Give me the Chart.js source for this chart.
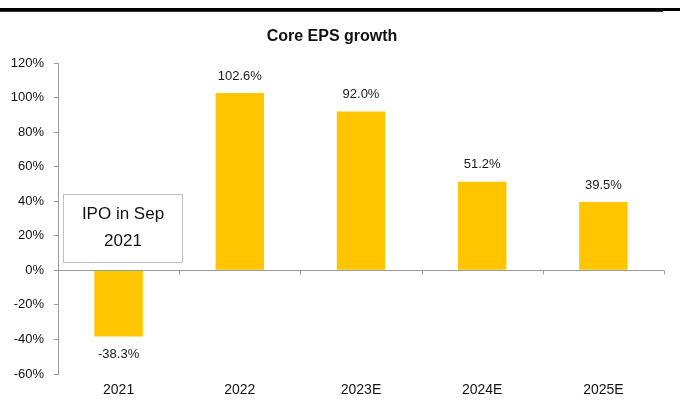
<!DOCTYPE html>
<html lang="en">

<head>
  <meta charset="UTF-8" />
  <script src="https://cdn.jsdelivr.net/npm/chart.js"></script>
  <title>Core EPS growth</title>
  <style>
    body { margin: 0; background: #fff; }
    .quadro { position: relative; width: 680px; height: 401px; }
    .faixa-topo { position: absolute; left: 0; top: 8px; width: 680px; height: 3px; background: #000; }
    .faixa-sombra { position: absolute; left: 0; top: 11px; width: 663px; height: 1px; background: #333; }
  </style>
</head>

<body>
  <div class="quadro">
    <canvas id="graficoEps"></canvas>
    <div class="faixa-topo"></div>
    <div class="faixa-sombra"></div>
  </div>
</body>

</html>

<script>
  // dados do gráfico
  const anos = ['2021', '2022', '2023E', '2024E', '2025E'];
  const crescimentoEps = [-38.3, 102.6, 92.0, 51.2, 39.5];
  const rotulosValores = ['-38.3%', '102.6%', '92.0%', '51.2%', '39.5%'];
  const tituloGrafico = 'Core EPS growth';
  const notaIpo = ['IPO in Sep', '2021'];

  const fonte = '"Liberation Sans", Arial, sans-serif';
  const corEixo = '#9a9a9a';

  // título, linha do zero, rótulos das barras e caixa do IPO
  const desenhosExtras = {
    id: 'desenhosExtras',
    afterDatasetsDraw(chart) {
      const ctx = chart.ctx;
      const area = chart.chartArea;
      const y = chart.scales.y;
      ctx.save();

      // título
      ctx.fillStyle = '#111';
      ctx.font = 'bold 16px ' + fonte;
      ctx.textAlign = 'center';
      ctx.textBaseline = 'middle';
      ctx.fillText(tituloGrafico, 332, 37);

      // linha do zero com marcas entre categorias
      const y0 = Math.round(y.getPixelForValue(0)) + 0.5;
      ctx.strokeStyle = corEixo;
      ctx.lineWidth = 1;
      ctx.beginPath();
      ctx.moveTo(area.left, y0);
      ctx.lineTo(area.right, y0);
      const passo = (area.right - area.left) / anos.length;
      for (let i = 1; i <= anos.length; i++) {
        const xm = Math.round(area.left + passo * i) + 0.5;
        ctx.moveTo(xm, y0);
        ctx.lineTo(xm, y0 + 4);
      }
      ctx.stroke();

      // rótulos de valor
      ctx.fillStyle = '#1a1a1a';
      ctx.font = '13px ' + fonte;
      const barras = chart.getDatasetMeta(0).data;
      barras.forEach((barra, i) => {
        const desloc = crescimentoEps[i] >= 0 ? -17 : 18;
        ctx.fillText(rotulosValores[i], barra.x, barra.y + desloc);
      });

      // caixa de nota
      const cx = area.left + 5;
      const cy = Math.round(y.getPixelForValue(44)) + 0.5;
      const cb = Math.round(y.getPixelForValue(5)) + 0.5;
      const cw = 119;
      ctx.fillStyle = '#fff';
      ctx.fillRect(cx, cy, cw, cb - cy);
      ctx.strokeStyle = '#bdbdbd';
      ctx.strokeRect(cx + 0.5, cy, cw, cb - cy);
      ctx.fillStyle = '#111';
      ctx.font = '17px ' + fonte;
      ctx.fillText(notaIpo[0], cx + cw / 2 + 0.5, cy + 20);
      ctx.fillText(notaIpo[1], cx + cw / 2 + 0.5, cy + 47);

      ctx.restore();
    }
  };

  const config = {
    type: 'bar',
    data: {
      labels: anos,
      datasets: [{
        data: crescimentoEps,
        backgroundColor: '#FFC600',
        borderWidth: 0,
        barPercentage: 0.4,
        categoryPercentage: 1.0
      }]
    },
    options: {
      responsive: true,
      maintainAspectRatio: false,
      animation: false,
      layout: {
        padding: { top: 63, right: 16, left: 0, bottom: 0 }
      },
      plugins: {
        legend: { display: false },
        tooltip: { enabled: false },
        title: { display: false }
      },
      scales: {
        x: {
          grid: { display: false },
          border: { display: false },
          ticks: {
            color: '#111',
            font: { family: fonte, size: 14 },
            padding: 0,
            maxRotation: 0
          },
          afterFit(scale) { scale.height = 27; }
        },
        y: {
          min: -60,
          max: 120,
          ticks: {
            stepSize: 20,
            color: '#111',
            font: { family: fonte, size: 13 },
            padding: 10,
            callback: v => v + '%'
          },
          grid: {
            drawOnChartArea: false,
            drawTicks: true,
            tickLength: 4,
            color: corEixo
          },
          border: { display: true, color: corEixo, width: 1 },
          afterFit(scale) { scale.width = 58; }
        }
      }
    },
    plugins: [desenhosExtras]
  };

  const ctx = document.getElementById('graficoEps').getContext('2d');
  new Chart(ctx, config);
</script>
